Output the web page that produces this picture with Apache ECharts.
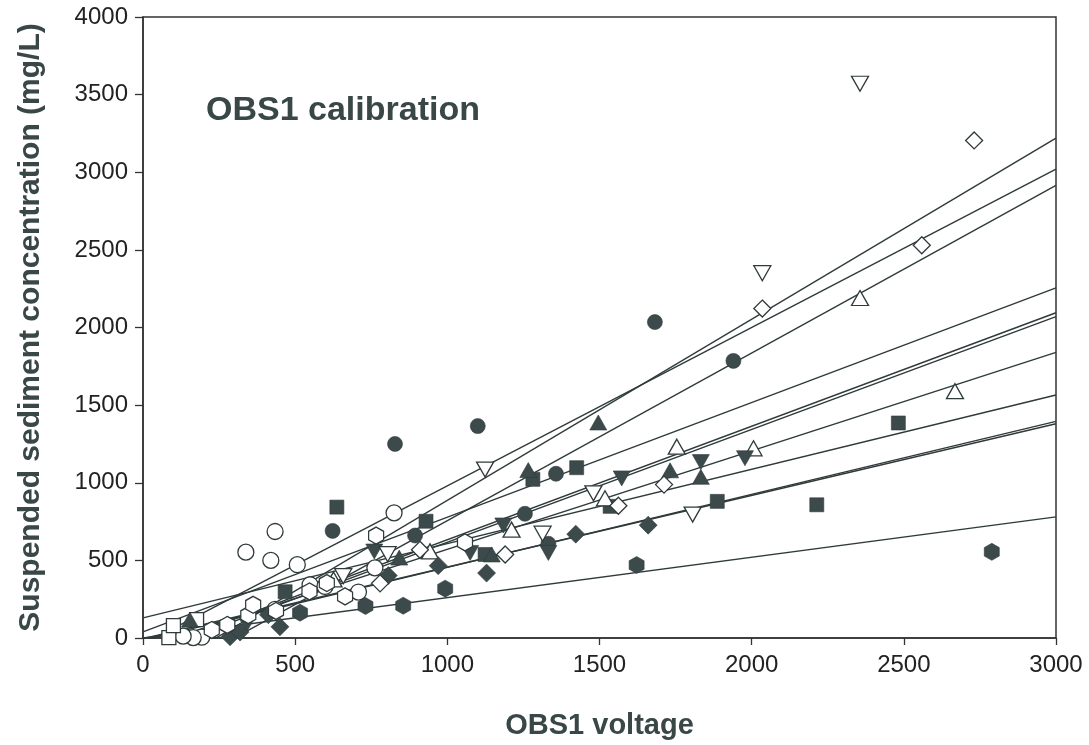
<!DOCTYPE html>
<html>
<head>
<meta charset="utf-8">
<script src="https://cdn.jsdelivr.net/npm/echarts@6/dist/echarts.min.js"></script>
<style>
  html, body { margin: 0; padding: 0; background: #fff; }
  #chart { width: 1089px; height: 745px; }
</style>
</head>
<body>
<div id="chart"></div>
<script>
// OBS1 voltage vs. suspended sediment concentration, one marker style per calibration run
const filledCircle = [[623,690],[828,1250],[894,660],[1100,1365],[1255,800],[1332,607],[1357,1058],[1682,2035],[1940,1785]];
const openCircle = [[338,553],[420,500],[434,686],[507,472],[825,806],[762,452],[708,296],[549,343],[598,332],[434,185],[193,5],[165,3],[132,12]];
const filledSquare = [[637,843],[930,752],[1281,1022],[1425,1097],[1535,848],[1887,880],[2214,858],[2482,1385],[467,298],[1124,538]];
const openSquare = [[85,3],[100,80],[176,118]];
const filledTriangle = [[154,118],[842,518],[1146,538],[1266,1082],[1496,1388],[1732,1080],[1833,1038]];
const openTriangle = [[626,377],[943,558],[1211,698],[1518,900],[1754,1232],[2006,1222],[2356,2190],[2668,1590]];
const filledInvTriangle = [[341,88],[760,557],[1075,548],[1184,725],[1332,548],[1573,1028],[1833,1133],[1978,1158]];
const openInvTriangle = [[658,398],[804,540],[1124,1085],[1313,672],[1480,932],[1806,795],[2035,2350],[2356,3570]];
const filledDiamond = [[286,8],[319,38],[412,150],[450,72],[806,402],[970,466],[1129,418],[1422,669],[1660,727]];
const openDiamond = [[779,352],[910,568],[1190,538],[1562,852],[1712,988],[2035,2122],[2559,2530],[2731,3205]];
const filledHexagon = [[516,163],[731,206],[855,208],[993,318],[1622,470],[2789,555]];
const openHexagon = [[226,52],[277,84],[346,148],[362,214],[437,174],[547,300],[604,354],[664,268],[766,660],[1058,616]];

// Linear calibration fits: concentration at voltage 0 and at voltage 3000
const fitStartValues = [-280, -40, -324, 39, -98, -110, -63, 130, -15, -5, 0];
const fitEndValues = [3220, 3020, 2915, 2255, 2095, 2070, 1840, 1565, 1395, 1380, 780];
const fitRange = [0, 3000];

const xTicks = [0, 500, 1000, 1500, 2000, 2500, 3000];
const yTicks = [0, 500, 1000, 1500, 2000, 2500, 3000, 3500, 4000];

const INK = '#2f3a3a';
const FILL = '#3c4a4b';
const hexPath = 'path://M8.66,0 L17.32,5 L17.32,15 L8.66,20 L0,15 L0,5 Z';

function markerSeries(data, symbol, size, filled, rotate) {
  return {
    type: 'scatter',
    data: data,
    symbol: symbol,
    symbolSize: size,
    symbolRotate: rotate || 0,
    z: 5,
    itemStyle: filled
      ? { color: FILL, borderColor: INK, borderWidth: 0.6, opacity: 1 }
      : { color: '#ffffff', borderColor: INK, borderWidth: 1.3, opacity: 1 }
  };
}

const fitSeries = fitStartValues.map((v0, i) => ({
  type: 'line',
  data: [[fitRange[0], v0], [fitRange[1], fitEndValues[i]]],
  showSymbol: false,
  symbol: 'none',
  clip: true,
  silent: true,
  z: 3,
  lineStyle: { color: INK, width: 1.4 }
}));

const plainNumber = v => String(v);

const chart = echarts.init(document.getElementById('chart'), null, { renderer: 'canvas' });
chart.setOption({
  animation: false,
  backgroundColor: '#ffffff',
  title: {
    text: 'OBS1 calibration',
    left: 201,
    top: 89,
    textStyle: { fontFamily: 'Liberation Sans', fontWeight: 'bold', fontSize: 34, color: '#3a4747' }
  },
  grid: {
    left: 143, right: 33, top: 17, bottom: 105,
    show: true, borderColor: '#333', borderWidth: 1.5, backgroundColor: 'transparent'
  },
  xAxis: {
    type: 'value',
    min: xTicks[0], max: xTicks[xTicks.length - 1], interval: 500,
    name: 'OBS1 voltage',
    nameLocation: 'middle',
    nameGap: 73,
    nameTextStyle: { fontFamily: 'Liberation Sans', fontWeight: 'bold', fontSize: 29, color: '#3a4747' },
    axisLine: { show: true, onZero: false, lineStyle: { color: '#333', width: 1.5 } },
    axisTick: { show: true, inside: false, length: 7, lineStyle: { color: '#333', width: 1.3 } },
    axisLabel: { margin: 15, fontFamily: 'Liberation Sans', fontSize: 24, color: '#222', formatter: plainNumber },
    splitLine: { show: false }
  },
  yAxis: {
    type: 'value',
    min: yTicks[0], max: yTicks[yTicks.length - 1], interval: 500,
    name: 'Suspended sediment concentration (mg/L)',
    nameLocation: 'middle',
    nameGap: 97,
    nameTextStyle: { fontFamily: 'Liberation Sans', fontWeight: 'bold', fontSize: 30, color: '#3a4747' },
    axisLine: { show: true, onZero: false, lineStyle: { color: '#333', width: 1.5 } },
    axisTick: { show: true, inside: false, length: 8, lineStyle: { color: '#333', width: 1.3 } },
    axisLabel: { margin: 15, fontFamily: 'Liberation Sans', fontSize: 24, color: '#222', formatter: plainNumber },
    splitLine: { show: false }
  },
  series: [
    ...fitSeries,
    markerSeries(filledCircle, 'circle', 15, true),
    markerSeries(openCircle, 'circle', 16, false),
    markerSeries(filledSquare, 'rect', 14, true),
    markerSeries(openSquare, 'rect', 14, false),
    markerSeries(filledTriangle, 'triangle', [17, 15], true),
    markerSeries(openTriangle, 'triangle', [17, 15], false),
    markerSeries(filledInvTriangle, 'triangle', [17, 15], true, 180),
    markerSeries(openInvTriangle, 'triangle', [17, 15], false, 180),
    markerSeries(filledDiamond, 'diamond', [18, 18], true),
    markerSeries(openDiamond, 'diamond', [17, 17], false),
    markerSeries(filledHexagon, hexPath, [15, 17], true),
    markerSeries(openHexagon, hexPath, [15, 17], false)
  ]
});
</script>
</body>
</html>
